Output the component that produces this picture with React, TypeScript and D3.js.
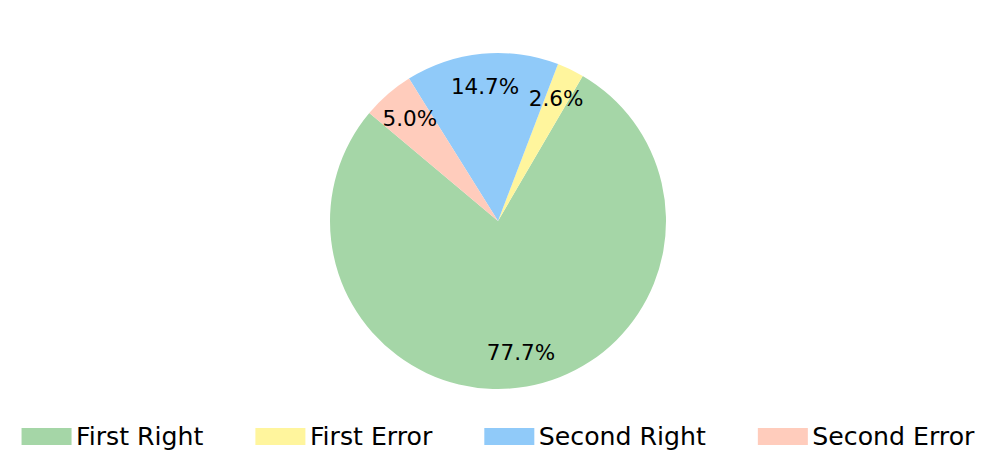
import React, { useLayoutEffect, useRef, useState } from "react";
import * as d3 from "d3";

const categories = ["First Right", "First Error", "Second Right", "Second Error"];
const values = [77.7, 2.6, 14.7, 5.0];
const colors = ["#a5d6a7", "#fff59d", "#90caf9", "#ffccbc"];

const W = 997;
const H = 473;
const FONT = "DejaVu Sans, sans-serif";

export default function App() {
  const cx = 498;
  const cy = 221;
  const r = 168;
  const startDeg = 140; // matplotlib-style startangle (ccw from +x)
  const s = ((90 - startDeg) * Math.PI) / 180;
  const pie = d3
    .pie<number>()
    .sort(null)
    .value((d) => d)
    .startAngle(s)
    .endAngle(s - 2 * Math.PI);
  const arcs = pie(values);
  const arc = d3.arc<d3.PieArcDatum<number>>().innerRadius(0).outerRadius(r);
  const labelArc = d3
    .arc<d3.PieArcDatum<number>>()
    .innerRadius(r * 0.8)
    .outerRadius(r * 0.8);

  const legendFont = 25.2;
  const patchW = 50;
  const patchH = 17;
  const pad = 4.5;
  const colGap = 52;
  const textRefs = useRef<(SVGTextElement | null)[]>([]);
  const [widths, setWidths] = useState<number[]>(categories.map((c) => c.length * 12));
  useLayoutEffect(() => {
    const w = textRefs.current.map((t) => (t ? t.getComputedTextLength() : 0));
    if (w.some((v, i) => Math.abs(v - widths[i]) > 0.5)) setWidths(w);
  });
  const itemW = widths.map((w) => patchW + pad + w);
  const total = itemW.reduce((a, b) => a + b, 0) + colGap * (categories.length - 1);
  let x0 = cx - total / 2;
  const xs: number[] = [];
  itemW.forEach((w) => {
    xs.push(x0);
    x0 += w + colGap;
  });
  const legendY = 436.5;

  return (
    <svg
      width={W}
      height={H}
      style={{ position: "fixed", left: 0, top: 0, background: "#fff" }}
      fontFamily={FONT}
    >
      <rect width={W} height={H} fill="#fff" />
      <g transform={`translate(${cx},${cy})`}>
        {arcs.map((a, i) => (
          <path key={i} d={arc(a) || ""} fill={colors[i]} />
        ))}
        {arcs.map((a, i) => {
          const [lx, ly] = labelArc.centroid(a);
          return (
            <text
              key={i}
              x={lx}
              y={ly}
              dy="0.3em"
              textAnchor="middle"
              fontSize={21.5}
              fill="#000"
            >
              {values[i].toFixed(1) + "%"}
            </text>
          );
        })}
      </g>
      <g>
        {categories.map((c, i) => (
          <g key={c} transform={`translate(${xs[i]},${legendY})`}>
            <rect x={0} y={-patchH / 2} width={patchW} height={patchH} fill={colors[i]} />
            <text
              ref={(el) => {
                textRefs.current[i] = el;
              }}
              x={patchW + pad}
              y={0}
              dy="0.35em"
              fontSize={legendFont}
              fill="#000"
            >
              {c}
            </text>
          </g>
        ))}
      </g>
    </svg>
  );
}
